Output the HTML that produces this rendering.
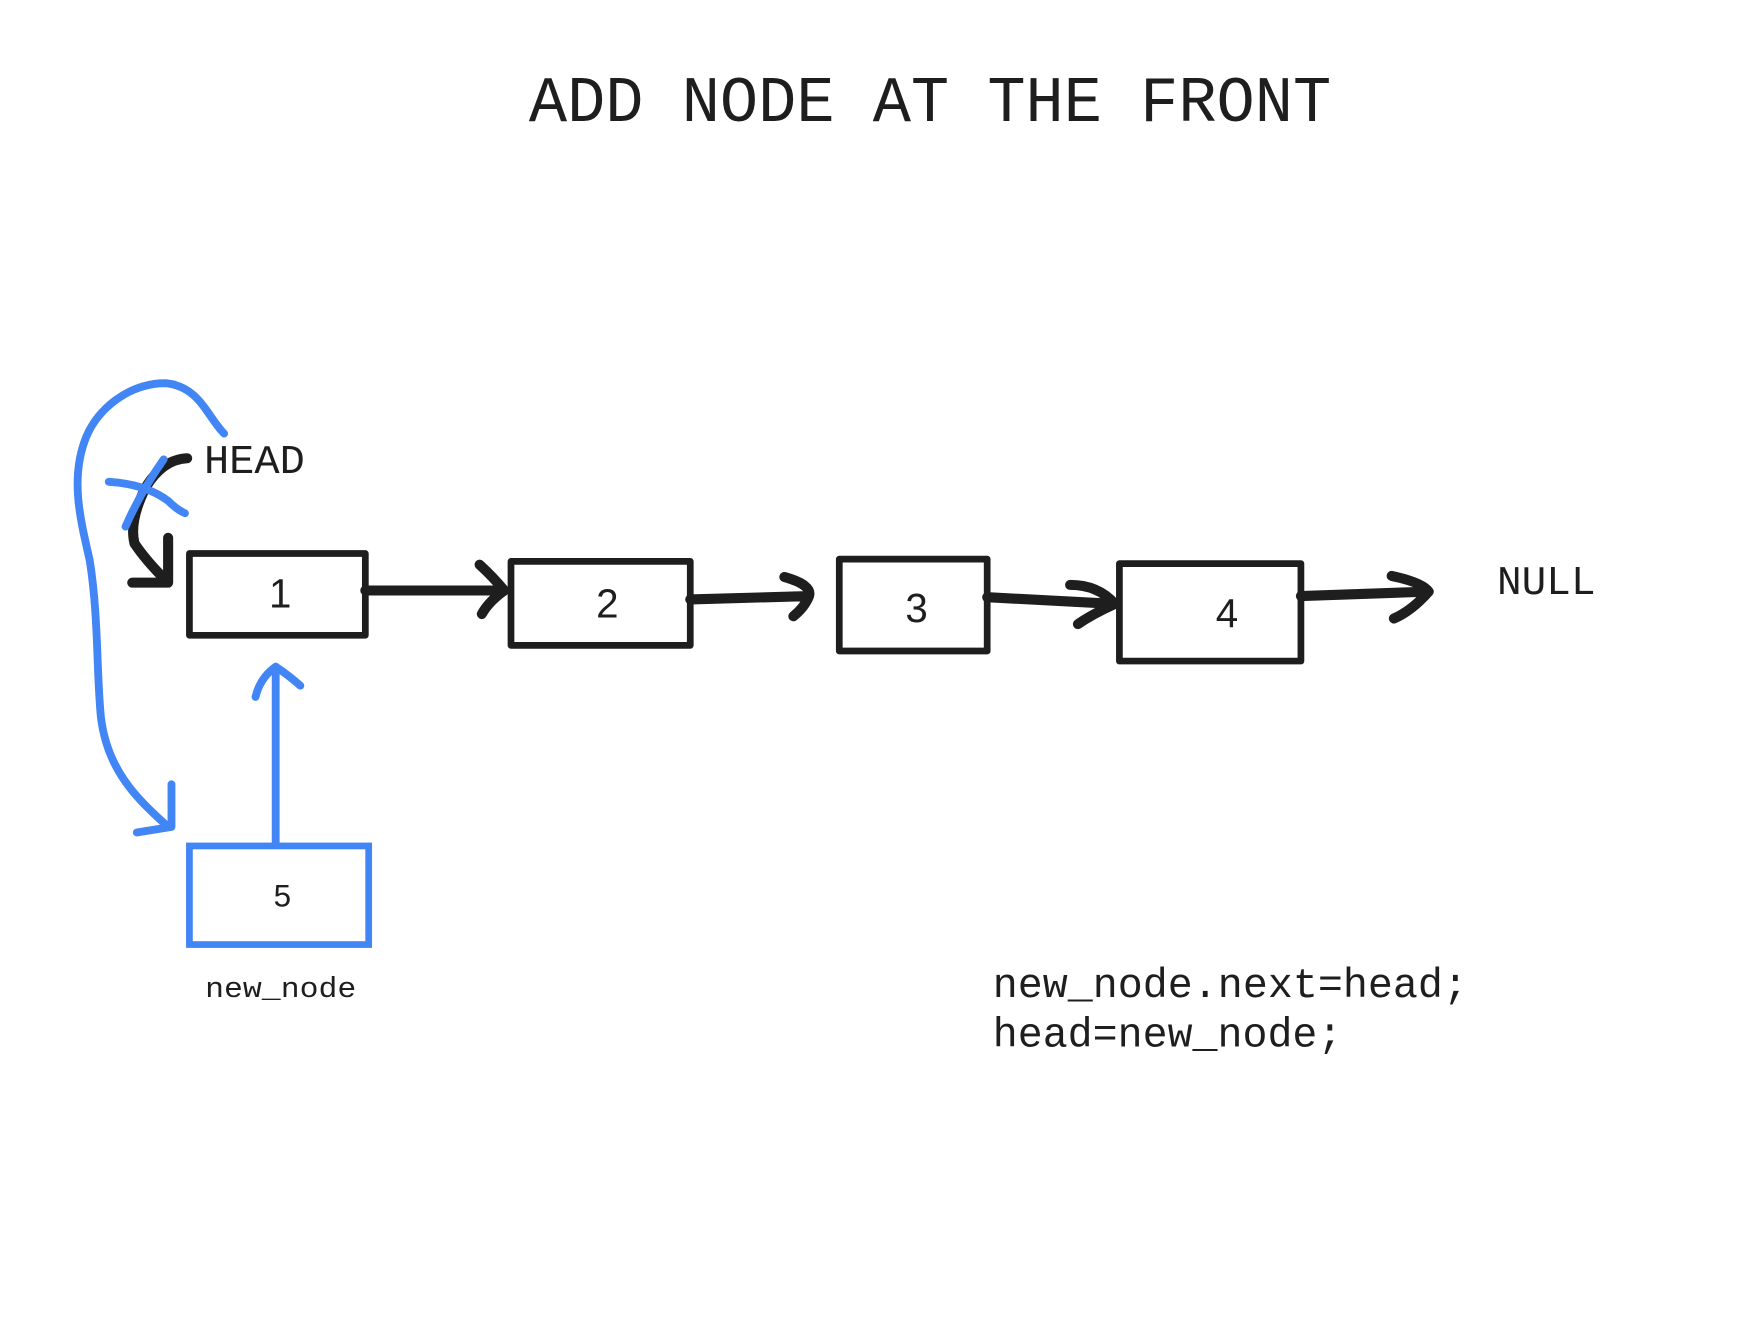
<!DOCTYPE html>
<html><head><meta charset="utf-8"><style>html,body{margin:0;padding:0;background:#fff}</style></head>
<body>
<svg width="1757" height="1318" viewBox="0 0 1568 1176.3" xmlns="http://www.w3.org/2000/svg">
<rect width="1568" height="1177" fill="#fff"/>
<g font-family="'Liberation Mono', monospace" fill="#1e1e1e">
<text x="472" y="108" font-size="58" textLength="716" lengthAdjust="spacingAndGlyphs">ADD NODE AT THE FRONT</text>
<text x="182" y="422" font-size="36" textLength="90" lengthAdjust="spacingAndGlyphs">HEAD</text>
<text x="1336" y="530" font-size="36" textLength="88" lengthAdjust="spacingAndGlyphs">NULL</text>
<text x="183" y="890" font-size="26" textLength="135" lengthAdjust="spacingAndGlyphs">new_node</text>
<text x="886" y="890" font-size="37" textLength="424" lengthAdjust="spacingAndGlyphs">new_node.next=head;</text>
<text x="886" y="934" font-size="37" textLength="312" lengthAdjust="spacingAndGlyphs">head=new_node;</text>
</g>
<g font-family="'Liberation Sans', sans-serif" fill="#1e1e1e" font-size="36" text-anchor="middle">
<text x="250" y="542">1</text>
<text x="542" y="551">2</text>
<text x="818" y="555">3</text>
<text x="1095" y="560">4</text>
<text x="252" y="809" font-size="28">5</text>
</g>
<g fill="none" stroke="#1e1e1e" stroke-width="6" stroke-linejoin="round">
<rect x="169" y="494" width="157" height="73"/>
<rect x="456" y="501" width="160" height="75"/>
<rect x="749" y="499" width="132" height="82"/>
<rect x="999" y="503" width="162" height="87"/>
</g>
<g fill="none" stroke="#1e1e1e" stroke-width="9" stroke-linecap="round" stroke-linejoin="round">
<path d="M326 527 L450 527 M428 504 Q440 515 450 527 Q436 537 430 548"/>
<path d="M616 535 L722 532 M700 515 Q725 522 722 532 Q718 542 708 550"/>
<path d="M881 533 L995 539 M955 522 Q980 522 995 539 Q975 548 962 557"/>
<path d="M1161 532 L1275 528 M1242 514 Q1270 520 1275 528 Q1260 545 1244 552"/>
<path d="M167 409 Q145 410 130 435 Q115 465 120 485 Q130 500 148 518"/>
<path d="M150 480 L150 520 L118 520"/>
</g>
<g fill="none" stroke="#4285f4" stroke-width="7" stroke-linecap="round" stroke-linejoin="round">
<path d="M97 430 Q130 432 150 447 Q158 455 165 458"/>
<path d="M146 410 Q125 440 112 470"/>
<path d="M200 387 C185 372 178 345 148 342 C115 342 85 365 75 395 C63 430 72 465 80 500 C88 550 86 600 90 640 C96 690 125 715 150 738"/>
<path d="M153 700 L153 738 L122 743"/>
<path d="M246 752 L246 595 M228 622 Q232 605 246 595 Q258 603 268 612"/>
<rect x="169" y="755" width="160" height="88" stroke-width="6" stroke-linejoin="miter"/>
</g>
</svg>
</body></html>
